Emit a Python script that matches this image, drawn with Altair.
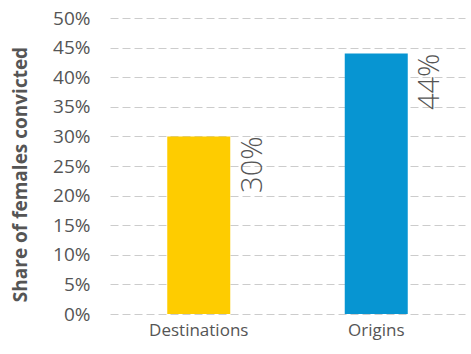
import altair as alt
import pandas as pd

categories = ["Destinations", "Origins"]
values = [0.30, 0.44]
labels = ["30%", "44%"]
colors = ["#FECC00", "#0795D2"]
y_ticks = [0.0, 0.05, 0.10, 0.15, 0.20, 0.25, 0.30, 0.35, 0.40, 0.45, 0.50]

df = pd.DataFrame({"cat": categories, "val": values, "label": labels})

FONT = "Open Sans"
GREY = "#555555"

x = alt.X("cat:N", sort=categories, title=None,
          scale=alt.Scale(paddingInner=0, paddingOuter=0),
          axis=alt.Axis(labelAngle=0, labelFontSize=17, labelColor=GREY, labelFont=FONT,
                        ticks=False, domain=False, labelPadding=8))
y = alt.Y("val:Q", title="Share of females convicted",
          scale=alt.Scale(domain=[0, 0.5], nice=False),
          axis=alt.Axis(values=y_ticks, format=".0%", labelFontSize=19, labelColor=GREY,
                        labelFont=FONT, ticks=False, domain=False, labelPadding=20,
                        labelOverlap=False,
                        grid=True, gridColor="#cccccc", gridDash=[8, 4], gridWidth=1,
                        titleFont=FONT, titleFontSize=19, titleFontWeight="bold",
                        titleColor=GREY, titleX=-90, titleY=156, titleAngle=270,
                        titleAlign="center", titleBaseline="middle"))

bars = alt.Chart(df).mark_bar(size=63).encode(
    x=x, y=y,
    color=alt.Color("cat:N", scale=alt.Scale(domain=categories, range=colors), legend=None),
)

text = alt.Chart(df).mark_text(angle=270, align="right", baseline="top", dy=40,
                               fontSize=29, font=FONT, color=GREY, fontWeight=300).encode(
    x=x, y=y, text="label:N"
)

chart = (bars + text).properties(
    width=355, height=296,
    autosize=alt.AutoSizeParams(type="none"),
    padding={"left": 110, "top": 18, "right": 6, "bottom": 40},
).configure_view(stroke=None)

chart.save("out.html", embed_options={"renderer": "svg", "actions": False})
